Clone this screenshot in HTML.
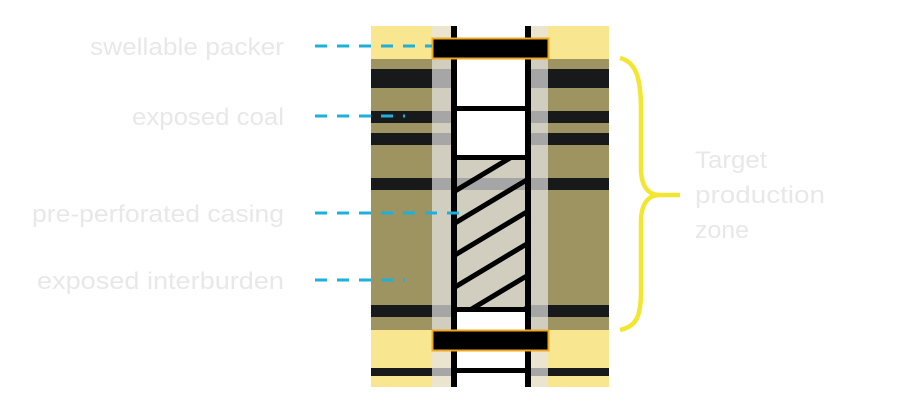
<!DOCTYPE html>
<html><head><meta charset="utf-8"><style>
html,body{margin:0;padding:0;background:#fff;width:897px;height:405px;overflow:hidden}
svg{display:block}
text{font-family:"Liberation Sans",sans-serif;fill:#e8e8e8;font-size:24px}
</style></head><body>
<svg width="897" height="405" viewBox="0 0 897 405">
<defs>
<clipPath id="hc"><rect x="456" y="160" width="69" height="147"/></clipPath>
</defs>
<rect x="371" y="26" width="238" height="33" fill="#f8e690"/>
<rect x="371" y="59" width="238" height="271" fill="#9e9462"/>
<rect x="371" y="330" width="238" height="57" fill="#f8e690"/>
<g fill="#18191b">
<rect x="371" y="69" width="238" height="19"/>
<rect x="371" y="111" width="238" height="12"/>
<rect x="371" y="133" width="238" height="12"/>
<rect x="371" y="178" width="238" height="12"/>
<rect x="371" y="305" width="238" height="12"/>
<rect x="371" y="368" width="238" height="8"/>
</g>
<rect x="432" y="26" width="19" height="361" fill="#ebe5cf"/>
<rect x="529" y="26" width="19" height="361" fill="#ebe5cf"/>
<rect x="432" y="59" width="19" height="271" fill="#d1cec0"/>
<rect x="529" y="59" width="19" height="271" fill="#d1cec0"/>
<g fill="#a6a6a6">
<rect x="432" y="69" width="19" height="19"/><rect x="529" y="69" width="19" height="19"/>
<rect x="432" y="111" width="19" height="12"/><rect x="529" y="111" width="19" height="12"/>
<rect x="432" y="133" width="19" height="12"/><rect x="529" y="133" width="19" height="12"/>
<rect x="432" y="178" width="19" height="12"/><rect x="529" y="178" width="19" height="12"/>
<rect x="432" y="305" width="19" height="12"/><rect x="529" y="305" width="19" height="12"/>
<rect x="432" y="368" width="19" height="8"/><rect x="529" y="368" width="19" height="8"/>
</g>
<rect x="456" y="26" width="69" height="361" fill="#fff"/>
<rect x="456" y="160" width="69" height="147" fill="#d1cec0"/>
<rect x="456" y="178" width="69" height="12" fill="#a6a6a6"/>
<g clip-path="url(#hc)" stroke="#000" stroke-width="5">
<line x1="440" y1="200" x2="540" y2="140"/>
<line x1="440" y1="232" x2="540" y2="172"/>
<line x1="440" y1="264" x2="540" y2="204"/>
<line x1="440" y1="296" x2="540" y2="236"/>
<line x1="440" y1="328" x2="540" y2="268"/>
<line x1="440" y1="360" x2="540" y2="300"/>
</g>
<rect x="451" y="26" width="6" height="361" fill="#000"/>
<rect x="525" y="26" width="6" height="361" fill="#000"/>
<g fill="#000">
<rect x="451" y="106" width="80" height="5"/>
<rect x="451" y="155" width="80" height="5"/>
<rect x="451" y="307" width="80" height="5"/>
<rect x="451" y="368" width="80" height="5"/>
</g>
<rect x="432.5" y="38.5" width="116" height="20" fill="#000" stroke="#f0a820" stroke-width="2"/>
<rect x="432.5" y="330.5" width="116" height="20" fill="#000" stroke="#f0a820" stroke-width="2"/>
<g stroke="#1eb0d8" stroke-width="3" stroke-dasharray="12,10">
<line x1="315" y1="46" x2="432" y2="46"/>
<line x1="315" y1="116" x2="405" y2="116"/>
<line x1="315" y1="213" x2="460" y2="213"/>
<line x1="315" y1="280" x2="405" y2="280"/>
</g>
<text x="90" y="55" textLength="194" lengthAdjust="spacingAndGlyphs">swellable packer</text>
<text x="132" y="125" textLength="152" lengthAdjust="spacingAndGlyphs">exposed coal</text>
<text x="32" y="222" textLength="252" lengthAdjust="spacingAndGlyphs">pre-perforated casing</text>
<text x="37" y="289" textLength="247" lengthAdjust="spacingAndGlyphs">exposed interburden</text>
<path d="M620,58 C636,62 641,78 641,110 L641,168 C641,186 648,195 660,195 L680,195 M660,195 C648,195 641,204 641,222 L641,290 C641,318 636,326 620,330" fill="none" stroke="#f2e630" stroke-width="4.5"/>
<text x="695" y="168" textLength="72" lengthAdjust="spacingAndGlyphs">Target</text>
<text x="695" y="203" textLength="130" lengthAdjust="spacingAndGlyphs">production</text>
<text x="695" y="238" textLength="54" lengthAdjust="spacingAndGlyphs">zone</text>
</svg>
</body></html>
